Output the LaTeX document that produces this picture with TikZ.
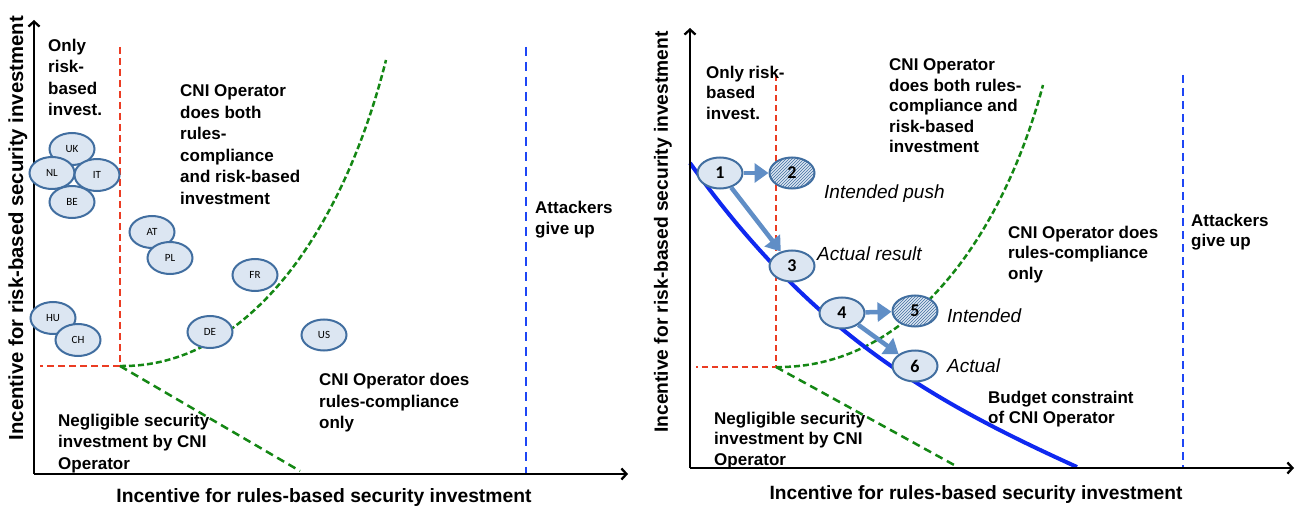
\documentclass[tikz,border=0pt]{standalone}
\usepackage{fontspec}
\setmainfont{Liberation Sans}
\newfontfamily\carl{Carlito}
\usetikzlibrary{arrows.meta,shapes.geometric,patterns}
\definecolor{ebord}{RGB}{65,110,160}
\definecolor{efill}{RGB}{220,230,242}
\definecolor{arrc}{RGB}{96,142,198}
\definecolor{gdash}{RGB}{20,135,20}
\definecolor{rdash}{RGB}{235,60,35}
\definecolor{bdash}{RGB}{30,70,245}
\definecolor{bsolid}{RGB}{15,40,240}
\begin{document}
\begin{tikzpicture}[x=1pt,y=-1pt,
 txt/.style={font=\fontsize{17}{21.5}\selectfont\bfseries, align=left, anchor=north west, inner sep=0pt},
 txtr/.style={txt, font=\fontsize{17}{20.6}\selectfont\bfseries},
 itl/.style={font=\fontsize{19}{22}\selectfont\itshape, anchor=base west, inner sep=0pt},
 axlbl/.style={font=\fontsize{19.3}{22}\selectfont\bfseries, inner sep=0pt},
 axisline/.style={line width=2.3pt, -{Straight Barb[length=5pt,width=11pt]}},
 cty/.style={ellipse, draw=ebord, fill=efill, line width=2pt, minimum width=45pt, minimum height=32pt, inner sep=0pt, font=\carl\fontsize{11}{11}\selectfont},
 num/.style={cty, minimum height=31pt, font=\carl\bfseries\fontsize{18}{18}\selectfont},
 hatch/.style={postaction={pattern=north east lines, pattern color=ebord}},
 push/.style={draw=arrc, line width=4.5pt, -{Triangle[length=14pt,width=19pt]}},
 reddash/.style={draw=rdash, line width=2.6pt, dash pattern=on 7pt off 4pt},
 greencurve/.style={draw=gdash, line width=2.5pt, dash pattern=on 6pt off 3pt},
 greenline/.style={draw=gdash, line width=2.5pt, dash pattern=on 8pt off 5pt},
 bluedash/.style={draw=bdash, line width=2.6pt, dash pattern=on 9pt off 6pt},
 budget/.style={draw=bsolid, line width=4pt}
]
\useasboundingbox (0,0) rectangle (1295,513);

% ---------------- left panel ----------------
\coordinate (LO) at (34,474);
\coordinate (LYt) at (34,20);
\coordinate (LXr) at (628,474);
\coordinate (LK) at (120,366);
\coordinate (LRt) at (120,47);
\coordinate (LRl) at (40,366);
\coordinate (LGt) at (386,60);
\coordinate (LGb) at (300,471);
\coordinate (LBt) at (526,47);
\coordinate (LBb) at (526,474);

\draw[reddash] (LRt) -- (LK) -- (LRl);
\draw[greencurve] (LK) .. controls (245,368) and (342,235) .. (LGt);
\draw[greenline] (LK) -- (LGb);
\draw[bluedash] (LBt) -- (LBb);
\draw[axisline] (LO) -- (LYt);
\draw[axisline] (LO) -- (LXr);

\node[txt] (Lonly) at (48,38.5) {Only\\risk-\\based\\invest.};
\node[txt] (Lboth) at (180,84.5) {CNI Operator\\does both\\rules-\\compliance\\and risk-based\\investment};
\node[txt] (Latt) at (535,200.5) {Attackers\\give up};
\node[txt] (Lrules) at (319,373) {CNI Operator does\\rules-compliance\\only};
\node[txt] (Lneg) at (58,413.5) {Negligible security\\investment by CNI\\Operator};
\node[axlbl] (Lxl) at (324,498) {Incentive for rules-based security investment};
\node[axlbl, rotate=90, font=\fontsize{20.3}{22}\selectfont\bfseries] (Lyl) at (18,228) {Incentive for risk-based security investment};

\node[cty] (UK) at (72,149) {UK};
\node[cty] (NL) at (52,173) {NL};
\node[cty] (IT) at (97,175) {IT};
\node[cty] (BE) at (72,202) {BE};
\node[cty] (AT) at (152,232) {AT};
\node[cty] (PL) at (170,258) {PL};
\node[cty] (FR) at (255,275) {FR};
\node[cty] (HU) at (53,318) {HU};
\node[cty] (CH) at (78,340) {CH};
\node[cty] (DE) at (210,332) {DE};
\node[cty, minimum height=31pt] (US) at (324,335) {US};

% ---------------- right panel ----------------
\coordinate (RO) at (690,468);
\coordinate (RYt) at (690,28);
\coordinate (RXr) at (1294,468);
\coordinate (RK) at (776,367);
\coordinate (RRt) at (776,75);
\coordinate (RRl) at (696,367);
\coordinate (RGt) at (1043,85);
\coordinate (RGb) at (956,466);
\coordinate (RBt) at (1183,75);
\coordinate (RBb) at (1183,468);
\coordinate (RBs) at (690,163);
\coordinate (RBe) at (1077,467);

\draw[reddash, dash pattern=on 6pt off 4pt] (RRt) -- (RK) -- (RRl);
\draw[greencurve] (RK) .. controls (904,369) and (1000,245) .. (RGt);
\draw[greenline] (RK) -- (RGb);
\draw[bluedash, dash pattern=on 8pt off 5pt] (RBt) -- (RBb);
\draw[budget] (RBs) .. controls (810,331) and (927,399) .. (RBe);
\draw[axisline] (RO) -- (RYt);
\draw[axisline] (RO) -- (RXr);

\node[txtr] (Ronly) at (706,65.5) {Only risk-\\based\\invest.};
\node[txtr] (Rboth) at (889,58.5) {CNI Operator\\does both rules-\\compliance and\\risk-based\\investment};
\node[txtr] (Rrules) at (1008,225.5) {CNI Operator does\\rules-compliance\\only};
\node[txtr] (Ratt) at (1191,213.5) {Attackers\\give up};
\node[txtr] (Rbud) at (988,390.5) {Budget constraint\\of CNI Operator};
\node[txtr] (Rneg) at (714,411.5) {Negligible security\\investment by CNI\\Operator};
\node[axlbl, font=\fontsize{19.2}{22}\selectfont\bfseries] (Rxl) at (976,495) {Incentive for rules-based security investment};
\node[axlbl, rotate=90, font=\fontsize{19.2}{22}\selectfont\bfseries] (Ryl) at (663,232) {Incentive for risk-based security investment};

\node[itl] (tpush) at (824,198) {Intended push};
\node[itl] (tres) at (817,260) {Actual result};
\node[itl] (tint) at (947,322) {Intended};
\node[itl] (tact) at (947,372) {Actual};

\node[num] (n1) at (720,173) {1};
\node[num, hatch] (n2) at (792,173) {2};
\node[num] (n3) at (792,266) {3};
\node[num] (n4) at (842,313) {4};
\node[num, hatch] (n5) at (915,311) {5};
\node[num] (n6) at (915,366) {6};

\draw[push] (n1) -- (n2);
\draw[push] (n1) -- (n3);
\draw[push] (n4) -- (n5);
\draw[push] (n4) -- (n6);
\end{tikzpicture}
\end{document}
